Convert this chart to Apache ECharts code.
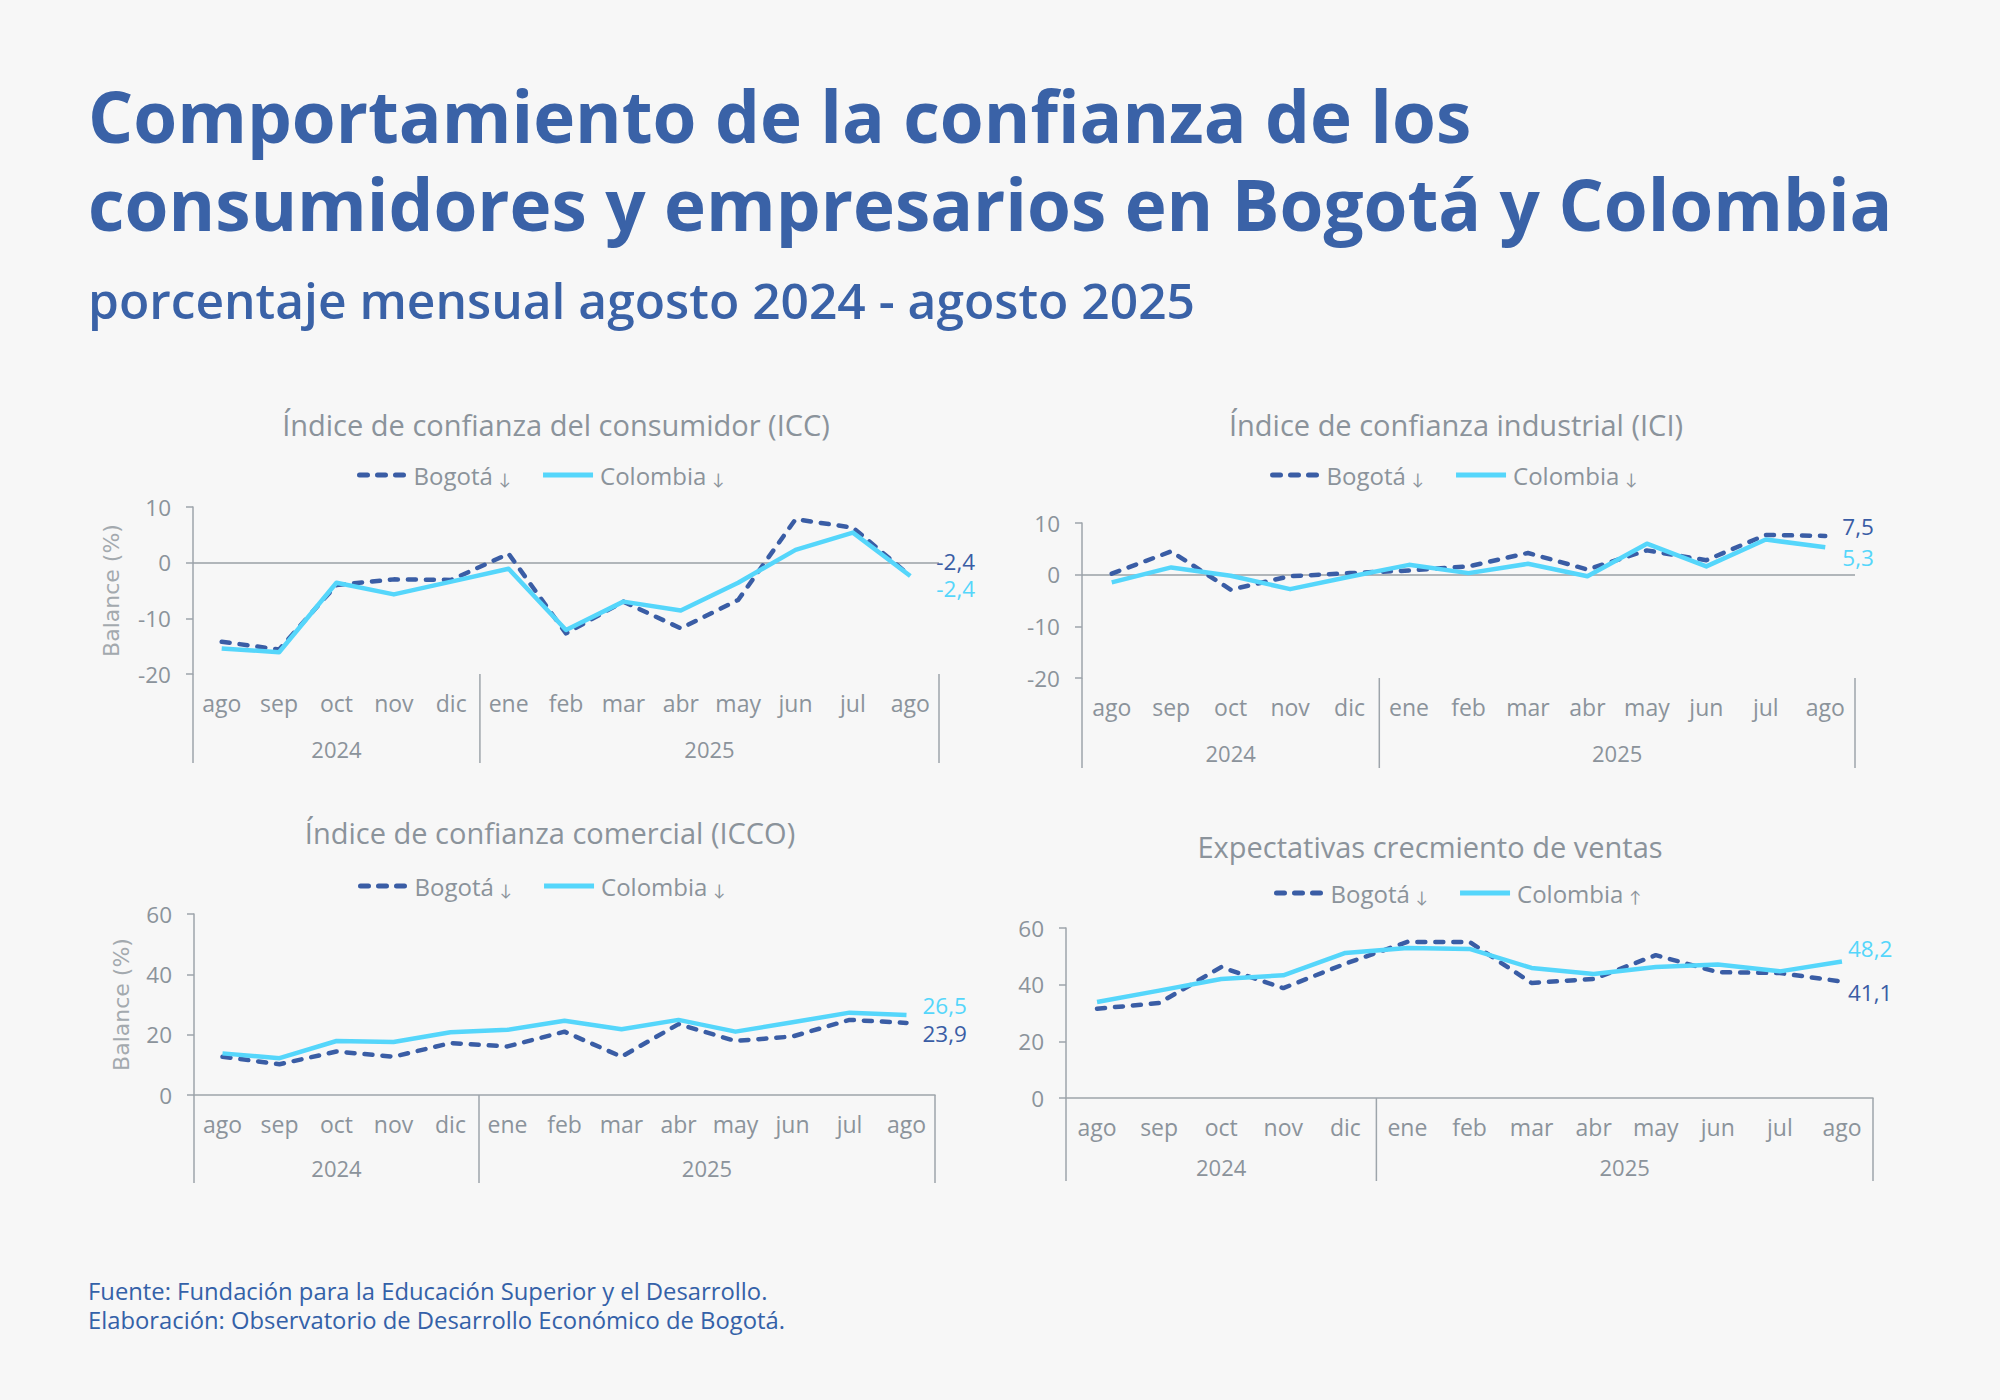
<!DOCTYPE html>
<html><head><meta charset="utf-8">
<script src="https://cdn.jsdelivr.net/npm/echarts@6/dist/echarts.min.js"></script>
<style>html,body{margin:0;padding:0;background:#f7f7f7}#c{width:2000px;height:1400px}</style>
</head><body><div id="c"></div>
<script>
// ---------- data ----------
const months = ['ago','sep','oct','nov','dic','ene','feb','mar','abr','may','jun','jul','ago'];
const years = ['2024','2025'];
const yearFirstIdx = [0, 5];
const yearLastIdx = [4, 12];

const mainTitle1 = 'Comportamiento de la confianza de los';
const mainTitle2 = 'consumidores y empresarios en Bogotá y Colombia';
const subTitle = 'porcentaje mensual agosto 2024 - agosto 2025';
const source1 = 'Fuente: Fundación para la Educación Superior y el Desarrollo.';
const source2 = 'Elaboración: Observatorio de Desarrollo Económico de Bogotá.';

const panelTitles = [
  'Índice de confianza del consumidor (ICC)',
  'Índice de confianza industrial (ICI)',
  'Índice de confianza comercial (ICCO)',
  'Expectativas crecmiento de ventas'
];
const seriesNames = ['Bogotá', 'Colombia'];
const bogotaArrows = ['↓', '↓', '↓', '↓'];
const colombiaArrows = ['↓', '↓', '↓', '↑'];
const yAxisNames = ['Balance (%)', '', 'Balance (%)', ''];

const iccBogota   = [-14.2, -15.6, -4.0, -3.0, -3.1, 1.6, -12.7, -7.0, -11.8, -6.7, 7.8, 6.3, -2.4];
const iccColombia = [-15.4, -16.1, -3.6, -5.7, -3.4, -1.1, -12.1, -7.0, -8.6, -3.6, 2.3, 5.4, -2.4];
const iciBogota   = [0.2, 4.5, -2.9, -0.3, 0.3, 0.8, 1.6, 4.2, 1.0, 4.7, 2.8, 7.7, 7.5];
const iciColombia = [-1.5, 1.4, -0.2, -2.8, -0.4, 1.9, 0.3, 2.1, -0.3, 6.0, 1.6, 6.8, 5.3];
const iccoBogota  = [12.7, 10.2, 14.4, 12.7, 17.2, 16.1, 21.0, 12.7, 23.5, 17.9, 19.4, 24.9, 23.9];
const iccoColombia= [13.8, 12.2, 17.9, 17.6, 20.8, 21.6, 24.6, 21.8, 24.9, 21.0, 24.1, 27.3, 26.5];
const ventasBogota   = [31.5, 33.5, 46.2, 38.8, 47.4, 55.1, 55.1, 40.6, 42.0, 50.4, 44.4, 44.1, 41.1];
const ventasColombia = [33.9, 37.9, 42.0, 43.3, 51.2, 52.9, 52.6, 45.9, 43.8, 46.2, 47.1, 44.7, 48.2];

const yMins = [-20, -20, 0, 0];
const yMaxs = [10, 10, 60, 60];
const yIntervals = [10, 10, 20, 20];

// ---------- layout / style ----------
const panelData = [[iccBogota, iccColombia],[iciBogota, iciColombia],[iccoBogota, iccoColombia],[ventasBogota, ventasColombia]];
const grids = [
  {left:193, top:507, width:746, height:167},
  {left:1082, top:523, width:773, height:155},
  {left:194, top:914, width:741, height:181},
  {left:1066, top:928, width:807, height:170}
];
const titleCenters = [[556,424],[1456,424],[550,832],[1430,846]];
const legendPos = [[357,475],[1270,475],[358,886],[1274,893]];
const endLabelOffsets = [
  [[16,-15],[16,12]],
  [[7,-9],[7,10]],
  [[6,11],[6,-10]],
  [[-4,11],[-4,-13]]
];
const yNameGaps = [71, 0, 62, 0];
const zeroLine = [true, true, false, false];

const DARK = '#3a5da5';
const CYAN = '#55d6fb';
const GRAY = '#8b939b';
const AXIS = '#9ea5ab';
const BLUE_TITLE = '#3a62a7';
const FONT = '"Open Sans", Lato, sans-serif';
const DASH_ICON = 'path://M2.5,0h8a2.5,2.5 0 0 1 0,5h-8a2.5,2.5 0 0 1 0,-5z M20.5,0h8a2.5,2.5 0 0 1 0,5h-8a2.5,2.5 0 0 1 0,-5z M38.5,0h8a2.5,2.5 0 0 1 0,5h-8a2.5,2.5 0 0 1 0,-5z';
const LINE_ICON = 'path://M0,0h50v5h-50z';

const fmt = v => String(v).replace('.', ',');

const option = {
  backgroundColor: '#f7f7f7',
  animation: false,
  textStyle: {fontFamily: FONT},
  grid: [], xAxis: [], yAxis: [], series: [], legend: [], graphic: []
};

panelData.forEach((pair, i) => {
  option.grid.push(Object.assign({containLabel:false}, grids[i]));
  option.xAxis.push({
    type:'category', gridIndex:i, data:months, boundaryGap:true,
    axisLine:{show: !zeroLine[i], onZero:false, lineStyle:{color:AXIS, width:1.5}},
    axisTick:{show:false},
    axisLabel:{interval:0, color:GRAY, fontSize:23, margin:17, fontFamily:FONT},
    splitLine:{show:false}
  });
  option.yAxis.push({
    type:'value', gridIndex:i, min:yMins[i], max:yMaxs[i], interval:yIntervals[i],
    name:yAxisNames[i], nameLocation:'middle', nameGap:yNameGaps[i], nameRotate:90,
    nameTextStyle:{color:'#a3a9ae', fontSize:22, fontFamily:'"DejaVu Sans", sans-serif'},
    axisLine:{show:true, lineStyle:{color:AXIS, width:1.5}},
    axisTick:{show:true, length:7, lineStyle:{color:AXIS, width:1.5}},
    axisLabel:{color:GRAY, fontSize:22.5, margin:22, fontFamily:FONT},
    splitLine:{show:false}
  });
  pair.forEach((vals, s) => {
    const color = s === 0 ? DARK : CYAN;
    const ser = {
      type:'line', name:seriesNames[s], xAxisIndex:i, yAxisIndex:i,
      data: vals, symbol:'none', z: s === 0 ? 3 : 4,
      lineStyle:{color:color, width:4.5, type: s === 0 ? [8,10] : 'solid', cap: s === 0 ? 'round' : 'butt', join:'round'},
      itemStyle:{color:color},
      endLabel:{show:true, distance:10, offset:endLabelOffsets[i][s], color:color,
        fontSize:22.5, lineHeight:20, fontFamily:FONT, formatter: p => fmt(vals[vals.length - 1])}
    };
    if (s === 0 && zeroLine[i]) {
      ser.markLine = {silent:true, symbol:'none', label:{show:false},
        lineStyle:{color:'#9aa0a6', type:'solid', width:1.5}, data:[{yAxis:0}], z:1};
    }
    option.series.push(ser);
  });
  option.legend.push({
    left: legendPos[i][0], top: legendPos[i][1] - 14, orient:'horizontal', padding:0,
    selectedMode:false, itemWidth:50, itemHeight:5, itemGap:32,
    data: [{name:seriesNames[0], icon:DASH_ICON, itemStyle:{color:DARK}},
           {name:seriesNames[1], icon:LINE_ICON, itemStyle:{color:CYAN}}],
    textStyle:{color:GRAY, fontSize:24, fontFamily:FONT, lineHeight:28, padding:[0,0,0,2],
      rich:{a:{fontSize:16, color:GRAY, lineHeight:28, padding:[8,0,0,0]}}},
    formatter: n => n + ' {a|' + (n === seriesNames[0] ? bogotaArrows[i] : colombiaArrows[i]) + '}'
  });
  option.graphic.push({
    type:'text', x: titleCenters[i][0], y: titleCenters[i][1],
    style:{text: panelTitles[i], fill: GRAY, font: '29px ' + FONT, align:'center', verticalAlign:'middle'}
  });
});

option.graphic.push(
  {type:'text', x:88, y:115, style:{text:mainTitle1, fill:BLUE_TITLE, font:'bold 71px ' + FONT, verticalAlign:'middle'}},
  {type:'text', x:88, y:203, style:{text:mainTitle2, fill:BLUE_TITLE, font:'bold 71px ' + FONT, verticalAlign:'middle'}},
  {type:'text', x:88, y:300, style:{text:subTitle, fill:BLUE_TITLE, font:'600 49.7px ' + FONT, verticalAlign:'middle'}},
  {type:'text', x:88, y:1291, style:{text:source1, fill:'#3461a8', font:'23.8px ' + FONT, verticalAlign:'middle'}},
  {type:'text', x:88, y:1320, style:{text:source2, fill:'#3461a8', font:'23.8px ' + FONT, verticalAlign:'middle'}}
);

const chart = echarts.init(document.getElementById('c'), null, {renderer:'svg', width:2000, height:1400});
chart.setOption(option);

// year labels and group separators, positioned from the axis scales
const extra = [];
const yearLabelDy = [75, 75, 73, 69];
const sepLen = [89, 90, 88, 83];
panelData.forEach((pair, i) => {
  const px = k => chart.convertToPixel({xAxisIndex:i}, k);
  const band = px(1) - px(0);
  const yb = chart.convertToPixel({yAxisIndex:i}, yMins[i]);
  const bounds = [px(0) - band/2, px(yearFirstIdx[1]) - band/2, px(months.length - 1) + band/2];
  bounds.forEach(x => extra.push({type:'line', silent:true,
    shape:{x1:x, y1:yb, x2:x, y2:yb + sepLen[i]}, style:{stroke:AXIS, lineWidth:1.5}}));
  years.forEach((yr, j) => {
    const cx = (px(yearFirstIdx[j]) + px(yearLastIdx[j])) / 2;
    extra.push({type:'text', x:cx, y:yb + yearLabelDy[i],
      style:{text:yr, fill:GRAY, font:'22px ' + FONT, align:'center', verticalAlign:'middle'}});
  });
});
chart.setOption({graphic: option.graphic.concat(extra)});
</script></body></html>
